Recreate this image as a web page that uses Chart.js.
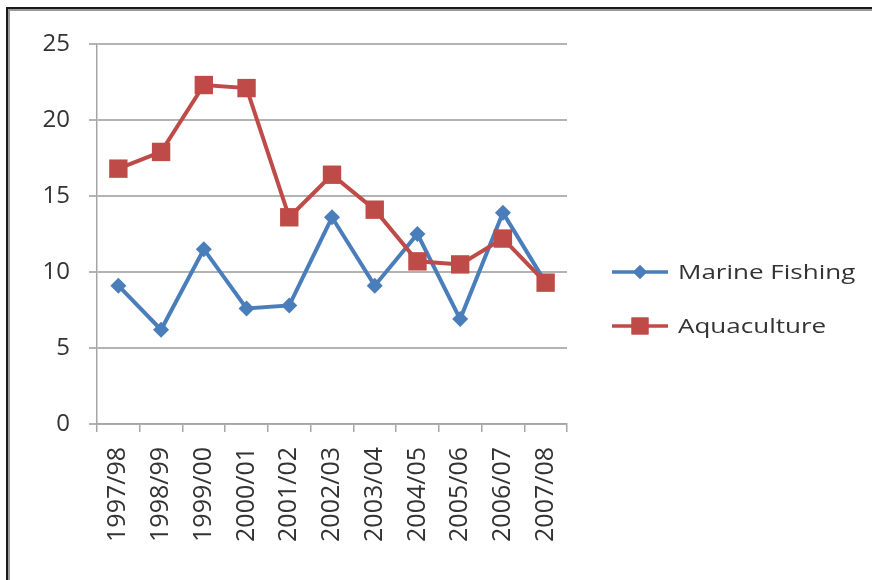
<!DOCTYPE html>
<html>
<head>
<meta charset="utf-8">
<script src="https://cdn.jsdelivr.net/npm/chart.js@4.4.1/dist/chart.umd.min.js"></script>
<style>
  html, body { margin: 0; padding: 0; background: #fff; }
  #wrap { position: relative; width: 872px; height: 580px; overflow: hidden; }
  #frame {
    position: absolute; left: 6px; top: 7px; right: -10px; bottom: -10px;
    border-left: 2px solid #1a1a1a; border-top: 2px solid #1a1a1a;
    box-shadow: inset 2px 2px 0 #9a9a9a;
    pointer-events: none;
  }
  canvas { position: absolute; left: 0; top: 0; }
</style>
</head>
<body>
<div id="wrap">
  <canvas id="chart" width="872" height="580"></canvas>
  <div id="frame"></div>
</div>
<script>
const seasons = ["1997/98", "1998/99", "1999/00", "2000/01", "2001/02", "2002/03",
  "2003/04", "2004/05", "2005/06", "2006/07", "2007/08"];
const marineFishing = [9.1, 6.2, 11.5, 7.6, 7.8, 13.6, 9.1, 12.5, 6.9, 13.9, 9.3];
const aquaculture = [16.8, 17.9, 22.3, 22.1, 13.6, 16.4, 14.1, 10.7, 10.5, 12.2, 9.3];
const yTicks = [0, 5, 10, 15, 20, 25];

const BLUE = "#4a7ebb";
const RED = "#be4b48";
const TEXT = "#333333";
const FONT = "'Open Sans', 'Liberation Sans', sans-serif";

// Excel-style legend: short line with the marker in the middle.
// The source picture is stretched sideways, so the label text is widened a bit.
const sideLegend = {
  id: "sideLegend",
  afterDraw(chart) {
    const ctx = chart.ctx;
    const rows = [
      { label: "Marine Fishing", color: BLUE, style: "rectRot", radius: 7, y: 272 },
      { label: "Aquaculture", color: RED, style: "rect", radius: 12, y: 326 }
    ];
    ctx.save();
    for (const r of rows) {
      ctx.strokeStyle = r.color;
      ctx.lineWidth = 3.5;
      ctx.beginPath();
      ctx.moveTo(612, r.y);
      ctx.lineTo(668, r.y);
      ctx.stroke();
      ctx.fillStyle = r.color;
      Chart.helpers.drawPoint(ctx, { pointStyle: r.style, radius: r.radius, borderWidth: 0 }, 640, r.y);
      ctx.fill();
      ctx.save();
      ctx.translate(678, r.y + 1);
      ctx.scale(1.3, 1);
      ctx.fillStyle = TEXT;
      ctx.font = "20px " + FONT;
      ctx.textBaseline = "middle";
      ctx.fillText(r.label, 0, 0);
      ctx.restore();
    }
    ctx.restore();
  }
};

new Chart(document.getElementById("chart"), {
  type: "line",
  data: {
    labels: seasons,
    datasets: [
      {
        label: "Marine Fishing",
        data: marineFishing,
        borderColor: BLUE,
        backgroundColor: BLUE,
        borderWidth: 4,
        pointStyle: "rectRot",
        pointRadius: 8,
        pointBorderWidth: 0,
        tension: 0,
        order: 2
      },
      {
        label: "Aquaculture",
        data: aquaculture,
        borderColor: RED,
        backgroundColor: RED,
        borderWidth: 4,
        pointStyle: "rect",
        pointRadius: 13,
        pointBorderWidth: 0,
        tension: 0,
        order: 1
      }
    ]
  },
  options: {
    responsive: false,
    animation: false,
    layout: { padding: { left: 0, top: 44, right: 305, bottom: 0 } },
    plugins: {
      legend: { display: false },
      tooltip: { enabled: false }
    },
    scales: {
      x: {
        offset: true,
        afterFit(scale) { scale.height = 156; },
        grid: {
          offset: true,
          drawOnChartArea: false,
          drawTicks: true,
          tickLength: 8,
          color: "#a6a6a6",
          lineWidth: 1.5
        },
        border: { color: "#a6a6a6", width: 1.5 },
        ticks: {
          color: TEXT,
          font: { family: FONT, size: 25 },
          minRotation: 90,
          maxRotation: 90,
          padding: 15
        }
      },
      y: {
        min: 0,
        max: 25,
        afterFit(scale) { scale.width = 97; },
        afterBuildTicks(scale) { scale.ticks = yTicks.map((v) => ({ value: v })); },
        grid: {
          color: "#b3b3b3",
          lineWidth: 2,
          drawTicks: true,
          tickLength: 8
        },
        border: { color: "#a6a6a6", width: 1.5 },
        ticks: {
          color: TEXT,
          font: { family: FONT, size: 24 },
          padding: 19
        }
      }
    }
  },
  plugins: [sideLegend]
});
</script>
</body>
</html>
